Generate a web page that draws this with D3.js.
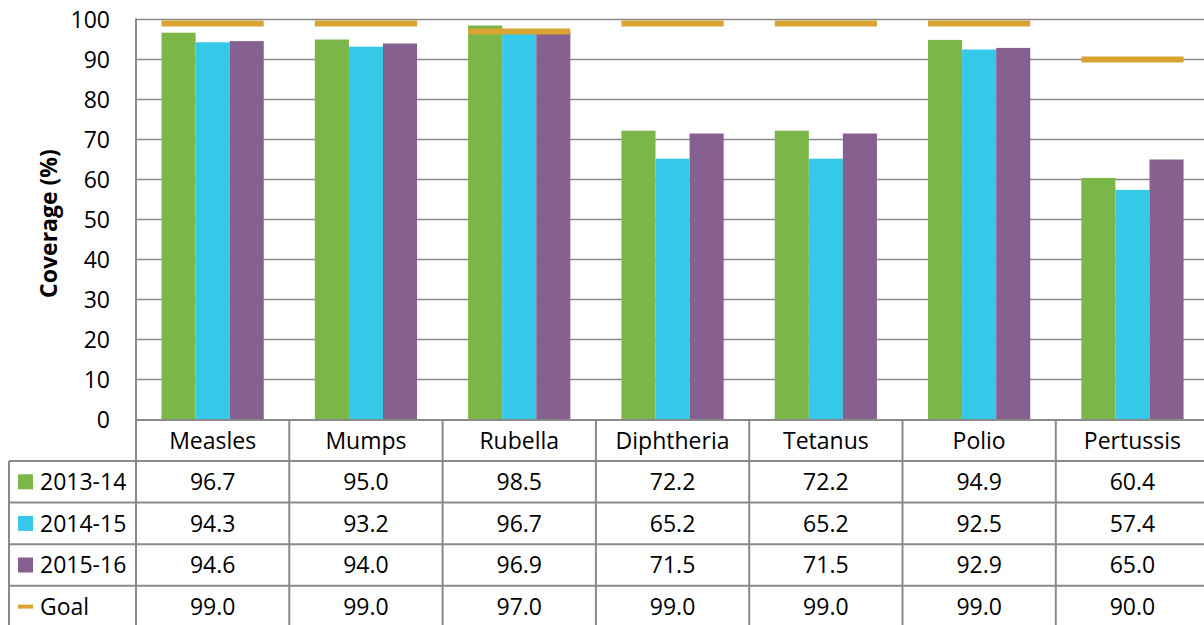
<!DOCTYPE html>
<html>
<head>
<meta charset="utf-8">
<script src="https://cdn.jsdelivr.net/npm/d3@7"></script>
<style>
  html, body { margin: 0; padding: 0; background: #fff; }
  svg { display: block; }
  text { font-family: "Open Sans", "Liberation Sans", sans-serif; fill: #000; }
</style>
</head>
<body>
<svg id="chart" width="1204" height="625"></svg>
<script>
// Vaccination coverage by antigen, three school years plus target goal
const categories = ["Measles", "Mumps", "Rubella", "Diphtheria", "Tetanus", "Polio", "Pertussis"];
const seriesNames = ["2013-14", "2014-15", "2015-16"];
const cov2013 = [96.7, 95.0, 98.5, 72.2, 72.2, 94.9, 60.4];
const cov2014 = [94.3, 93.2, 96.7, 65.2, 65.2, 92.5, 57.4];
const cov2015 = [94.6, 94.0, 96.9, 71.5, 71.5, 92.9, 65.0];
const goal = [99.0, 99.0, 97.0, 99.0, 99.0, 99.0, 90.0];
const yTicks = [0, 10, 20, 30, 40, 50, 60, 70, 80, 90, 100];
const colors = ["#7AB648", "#35C8E9", "#86608E"];
const goalColor = "#D8A432";

const seriesValues = [cov2013, cov2014, cov2015];

const svg = d3.select("#chart");
const gridColor = "#8a8a8a";

const left = 136, colW = 153.3;
const x = d3.scaleBand().domain(categories).range([left, left + colW * categories.length]);
const x1 = d3.scaleBand().domain(seriesNames).range([0, x.bandwidth()]).paddingOuter(0.75);
const y = d3.scaleLinear().domain([0, 100]).range([419.5, 19.5]);

// gridlines
svg.append("g").selectAll("line").data(yTicks.filter(d => d > 0)).join("line")
  .attr("x1", left).attr("x2", 1204)
  .attr("y1", d => y(d)).attr("y2", d => y(d))
  .attr("stroke", gridColor).attr("stroke-width", 1.5);

// y axis labels
svg.append("g").selectAll("text").data(yTicks).join("text")
  .attr("x", 110).attr("y", d => y(d)).attr("dy", "0.36em")
  .attr("text-anchor", "end").attr("font-size", 23).text(d => d);

// axis title
svg.append("text")
  .attr("transform", `translate(57,${y(49)}) rotate(-90)`)
  .attr("text-anchor", "middle").attr("font-size", 23).attr("font-weight", "bold")
  .text("Coverage (%)");

// bars
const groups = svg.append("g").selectAll("g").data(categories).join("g")
  .attr("transform", d => `translate(${x(d)},0)`);

groups.selectAll("rect").data((c, i) => seriesNames.map((s, j) => ({ s, v: seriesValues[j][i], j })))
  .join("rect")
  .attr("x", d => x1(d.s)).attr("width", x1.bandwidth())
  .attr("y", d => y(d.v)).attr("height", d => y(0) - y(d.v))
  .attr("fill", d => colors[d.j]);

// goal markers
groups.append("rect")
  .attr("x", x1(seriesNames[0]))
  .attr("width", x1.bandwidth() * seriesNames.length)
  .attr("y", (c, i) => y(goal[i]) - 3).attr("height", 6)
  .attr("fill", goalColor);

// data table
const rowTop = 420, catRowH = 41, rowH = 41.6;
const tableLeft = 9;
const rows = [
  { label: "2013-14", values: cov2013, color: colors[0], marker: "square" },
  { label: "2014-15", values: cov2014, color: colors[1], marker: "square" },
  { label: "2015-16", values: cov2015, color: colors[2], marker: "square" },
  { label: "Goal", values: goal, color: goalColor, marker: "line" }
];
const rowY = i => rowTop + catRowH + i * rowH;
const right = 1204;

const table = svg.append("g");
// horizontal rules
table.append("line").attr("x1", left).attr("x2", right).attr("y1", rowTop).attr("y2", rowTop)
  .attr("stroke", gridColor).attr("stroke-width", 2);
rows.forEach((r, i) => {
  table.append("line").attr("x1", tableLeft).attr("x2", right)
    .attr("y1", rowY(i)).attr("y2", rowY(i))
    .attr("stroke", gridColor).attr("stroke-width", 2);
});
// vertical rules
table.append("line").attr("x1", left).attr("x2", left).attr("y1", y(100) - 1).attr("y2", 625)
  .attr("stroke", gridColor).attr("stroke-width", 2);
table.append("line").attr("x1", tableLeft).attr("x2", tableLeft).attr("y1", rowY(0)).attr("y2", 625)
  .attr("stroke", gridColor).attr("stroke-width", 2);
categories.forEach(c => {
  table.append("line").attr("x1", x(c) + colW).attr("x2", x(c) + colW)
    .attr("y1", rowTop).attr("y2", 625)
    .attr("stroke", gridColor).attr("stroke-width", 2);
});

// category labels
table.selectAll("text.cat").data(categories).join("text").attr("class", "cat")
  .attr("x", d => x(d) + colW / 2).attr("y", rowTop + catRowH / 2).attr("dy", "0.36em")
  .attr("text-anchor", "middle").attr("font-size", 23).text(d => d);

// value rows
rows.forEach((r, i) => {
  const cy = rowY(i) + rowH / 2;
  if (r.marker === "square") {
    table.append("rect").attr("x", 18).attr("y", cy - 7.5).attr("width", 15).attr("height", 15).attr("fill", r.color);
  } else {
    table.append("rect").attr("x", 18).attr("y", cy - 2).attr("width", 15).attr("height", 4).attr("fill", r.color);
  }
  table.append("text").attr("x", 40).attr("y", cy).attr("dy", "0.36em")
    .attr("font-size", 23).text(r.label);
  table.append("g").selectAll("text").data(r.values).join("text")
    .attr("x", (v, k) => x(categories[k]) + colW / 2).attr("y", cy).attr("dy", "0.36em")
    .attr("text-anchor", "middle").attr("font-size", 23).text(v => v.toFixed(1));
});
</script>
</body>
</html>
